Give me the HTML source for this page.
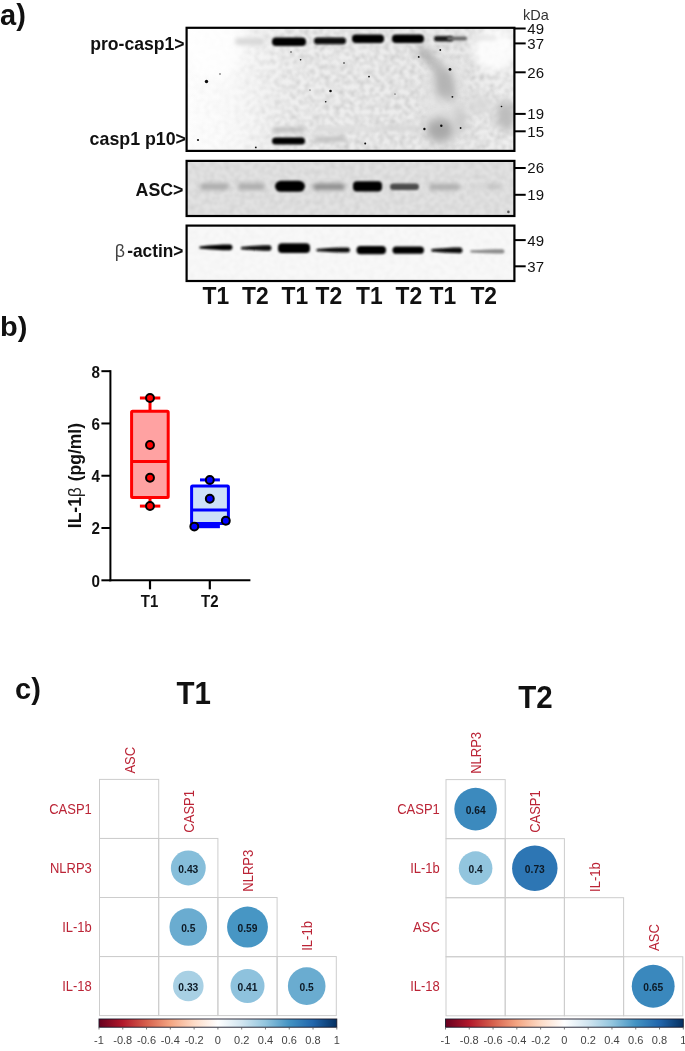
<!DOCTYPE html>
<html><head><meta charset="utf-8"><title>Figure</title>
<style>html,body{margin:0;padding:0;background:#fff}body{width:685px;height:1051px;overflow:hidden}</style>
</head><body>
<svg width="685" height="1051" viewBox="0 0 685 1051" style="display:block">
<defs>
<filter id="b1" x="-50%" y="-100%" width="200%" height="300%"><feGaussianBlur stdDeviation="1.2"/></filter>
<filter id="b2" x="-50%" y="-100%" width="200%" height="300%"><feGaussianBlur stdDeviation="2"/></filter>
<filter id="b4" x="-50%" y="-50%" width="200%" height="200%"><feGaussianBlur stdDeviation="5"/></filter>
<filter id="b05" x="-100%" y="-100%" width="300%" height="300%"><feGaussianBlur stdDeviation="0.5"/></filter>
<filter id="nz" x="0" y="0" width="100%" height="100%" filterUnits="objectBoundingBox"><feTurbulence type="fractalNoise" baseFrequency="0.2" numOctaves="2" seed="7" result="t"/><feColorMatrix in="t" type="matrix" values="0 0 0 0 0  0 0 0 0 0  0 0 0 0 0  0.32 0 0 0 -0.12" result="n0"/><feGaussianBlur in="n0" stdDeviation="0.8" result="n"/><feComposite in="n" in2="SourceGraphic" operator="in"/></filter>
<linearGradient id="cb" x1="0" x2="1" y1="0" y2="0">
<stop offset="0.00" stop-color="#67001F"/>
<stop offset="0.10" stop-color="#B2182B"/>
<stop offset="0.20" stop-color="#D6604D"/>
<stop offset="0.30" stop-color="#F4A582"/>
<stop offset="0.40" stop-color="#FDDBC7"/>
<stop offset="0.50" stop-color="#FFFFFF"/>
<stop offset="0.60" stop-color="#D1E5F0"/>
<stop offset="0.70" stop-color="#92C5DE"/>
<stop offset="0.80" stop-color="#4393C3"/>
<stop offset="0.90" stop-color="#2166AC"/>
<stop offset="1.00" stop-color="#053061"/>
</linearGradient></defs>
<rect width="685" height="1051" fill="#fff"/>
<text x="0" y="25.4" font-family="'Liberation Sans', Arial, sans-serif" font-size="29" font-weight="bold" text-anchor="start" fill="#111" >a)</text>
<text transform="translate(0,336.1) scale(1,0.95)" font-family="'Liberation Sans', Arial, sans-serif" font-size="29" font-weight="bold" fill="#111">b)</text>
<text x="15" y="699" font-family="'Liberation Sans', Arial, sans-serif" font-size="29" font-weight="bold" text-anchor="start" fill="#111" >c)</text>
<clipPath id="cp1"><rect x="186.8" y="27.8" width="327.8" height="123.1"/></clipPath>
<clipPath id="cp2"><rect x="186.8" y="160.9" width="327.2" height="55.1"/></clipPath>
<clipPath id="cp3"><rect x="186.8" y="225.5" width="327.2" height="55.5"/></clipPath>
<linearGradient id="g1" x1="186" x2="515" y1="0" y2="0" gradientUnits="userSpaceOnUse"><stop offset="0" stop-color="#fefefe"/><stop offset="0.12" stop-color="#fbfbfb"/><stop offset="0.3" stop-color="#f0f0f0"/><stop offset="0.6" stop-color="#ededed"/><stop offset="0.85" stop-color="#ebebeb"/><stop offset="1" stop-color="#f2f2f2"/></linearGradient>
<g clip-path="url(#cp1)">
<rect x="186.6" y="27.8" width="327.79999999999995" height="123.10000000000001" fill="url(#g1)"/>
<linearGradient id="gm" x1="186" x2="515" y1="0" y2="0" gradientUnits="userSpaceOnUse"><stop offset="0" stop-color="#fff" stop-opacity="0.15"/><stop offset="0.15" stop-color="#fff" stop-opacity="0.3"/><stop offset="0.35" stop-color="#fff" stop-opacity="1"/><stop offset="1" stop-color="#fff" stop-opacity="1"/></linearGradient><mask id="m1" maskUnits="userSpaceOnUse" x="186" y="27" width="330" height="124"><rect x="186" y="27" width="330" height="124" fill="url(#gm)"/></mask>
<rect x="186.6" y="27.8" width="327.79999999999995" height="123.10000000000001" fill="#000" filter="url(#nz)" mask="url(#m1)"/>
<ellipse cx="215" cy="40" rx="30" ry="40" fill="#fff" filter="url(#b4)" opacity="0.7"/>
<ellipse cx="495" cy="50" rx="22" ry="22" fill="#fff" filter="url(#b4)" opacity="0.85"/>
<ellipse cx="445" cy="100" rx="22" ry="45" fill="#e2e2e2" filter="url(#b4)" opacity="0.8"/>
<path d="M414,50 C428,58 440,72 448,95 L456,104 C450,78 438,60 424,48 Z" fill="#999" filter="url(#b4)"/>
<ellipse cx="444" cy="84" rx="9" ry="15" fill="#b4b4b4" filter="url(#b4)"/>
<ellipse cx="440" cy="130" rx="14" ry="12" fill="#a8a8a8" filter="url(#b4)"/>
<ellipse cx="460" cy="120" rx="6" ry="14" fill="#c8c8c8" filter="url(#b4)"/>
<ellipse cx="506" cy="116" rx="10" ry="16" fill="#bcbcbc" filter="url(#b4)"/>
<ellipse cx="480" cy="105" rx="12" ry="8" fill="#d8d8d8" filter="url(#b4)"/>
<ellipse cx="398" cy="128" rx="25" ry="2.5" fill="#d4d4d4" filter="url(#b2)"/>
<ellipse cx="345" cy="129" rx="32" ry="2.5" fill="#dedede" filter="url(#b2)"/>
</g>
<rect x="186.6" y="160.9" width="327.79999999999995" height="55.1" fill="#e2e2e2"/>
<rect x="186.6" y="160.9" width="327.79999999999995" height="55.1" fill="#000" filter="url(#nz)" opacity="0.5"/>
<rect x="186.6" y="225.5" width="327.79999999999995" height="55.5" fill="#f8f8f8"/>
<rect x="186.6" y="225.5" width="327.79999999999995" height="55.5" fill="#000" filter="url(#nz)" opacity="0.18"/>
<rect x="235.0" y="38.0" width="30.0" height="7.0" rx="3.5" fill="#d8d8d8" filter="url(#b2)"/>
<rect x="272.0" y="37.5" width="34.0" height="8.5" rx="4.0" fill="#000" filter="url(#b1)"/>
<rect x="314.0" y="37.6" width="32.0" height="6.6" rx="3.3" fill="#0a0a0a" filter="url(#b1)"/>
<rect x="352.0" y="34.6" width="32.0" height="8.4" rx="4.0" fill="#000" filter="url(#b1)"/>
<rect x="392.0" y="34.6" width="32.0" height="8.4" rx="4.0" fill="#000" filter="url(#b1)"/>
<rect x="434.0" y="36.0" width="19.0" height="5.6" rx="2.8" fill="#1e1e1e" filter="url(#b1)"/>
<rect x="447.0" y="36.6" width="20.0" height="4.0" rx="2.0" fill="#6a6a6a" filter="url(#b1)"/>
<rect x="474.0" y="36.0" width="23.0" height="4.0" rx="2.0" fill="#e4e4e4" filter="url(#b2)"/>
<rect x="272.0" y="127.5" width="33.0" height="4.5" rx="2.2" fill="#b8b8b8" filter="url(#b2)"/>
<rect x="272.0" y="137.5" width="33.0" height="7.0" rx="3.5" fill="#000" filter="url(#b1)"/>
<rect x="314.0" y="136.5" width="32.0" height="5.0" rx="2.5" fill="#bdbdbd" filter="url(#b2)"/>
<rect x="314.0" y="128.0" width="32.0" height="3.0" rx="1.5" fill="#dadada" filter="url(#b2)"/>
<circle cx="206.5" cy="81.5" r="1.7" fill="#111" filter="url(#b05)"/>
<circle cx="330.5" cy="91" r="1.3" fill="#111" filter="url(#b05)"/>
<circle cx="369" cy="76.6" r="0.9" fill="#111" filter="url(#b05)"/>
<circle cx="418.7" cy="56.9" r="0.9" fill="#111" filter="url(#b05)"/>
<circle cx="450" cy="69.4" r="1.4" fill="#111" filter="url(#b05)"/>
<circle cx="452.4" cy="96.8" r="0.9" fill="#111" filter="url(#b05)"/>
<circle cx="424.4" cy="129" r="1.2" fill="#111" filter="url(#b05)"/>
<circle cx="440.3" cy="50" r="0.9" fill="#111" filter="url(#b05)"/>
<circle cx="365.2" cy="143.6" r="1" fill="#111" filter="url(#b05)"/>
<circle cx="198" cy="140" r="1.1" fill="#111" filter="url(#b05)"/>
<circle cx="255.8" cy="147.4" r="0.9" fill="#111" filter="url(#b05)"/>
<circle cx="300.6" cy="59.8" r="0.8" fill="#111" filter="url(#b05)"/>
<circle cx="325.7" cy="101.7" r="0.8" fill="#111" filter="url(#b05)"/>
<circle cx="344" cy="63" r="0.8" fill="#111" filter="url(#b05)"/>
<circle cx="460.6" cy="128" r="0.9" fill="#111" filter="url(#b05)"/>
<circle cx="501.5" cy="106.5" r="0.8" fill="#111" filter="url(#b05)"/>
<circle cx="441.3" cy="125.7" r="1.2" fill="#111" filter="url(#b05)"/>
<circle cx="291" cy="52" r="0.7" fill="#111" filter="url(#b05)"/>
<circle cx="310" cy="90" r="0.6" fill="#111" filter="url(#b05)"/>
<circle cx="395" cy="94" r="0.6" fill="#111" filter="url(#b05)"/>
<circle cx="220" cy="74" r="0.7" fill="#111" filter="url(#b05)"/>
<rect x="200.0" y="183.2" width="29.0" height="6.8" rx="3.4" fill="#acacac" filter="url(#b2)"/>
<rect x="237.5" y="183.2" width="27.5" height="6.8" rx="3.4" fill="#acacac" filter="url(#b2)"/>
<rect x="275" y="180.8" width="30" height="11" rx="6" ry="5.5" fill="#000" filter="url(#b1)"/>
<rect x="313.0" y="183.5" width="32.0" height="6.5" rx="3.2" fill="#8c8c8c" filter="url(#b2)"/>
<rect x="353.0" y="181.2" width="29.0" height="10.3" rx="4.0" fill="#000" filter="url(#b1)"/>
<rect x="390.0" y="183.5" width="29.0" height="6.5" rx="3.2" fill="#4c4c4c" filter="url(#b1)"/>
<rect x="429.0" y="184.0" width="31.0" height="6.0" rx="3.0" fill="#acacac" filter="url(#b2)"/>
<rect x="486.0" y="184.0" width="16.0" height="5.0" rx="2.5" fill="#c2c2c2" filter="url(#b2)"/>
<rect x="470.0" y="184.5" width="18.0" height="4.0" rx="2.0" fill="#d2d2d2" filter="url(#b2)"/>
<circle cx="508.4" cy="211.9" r="1.3" fill="#555" filter="url(#b05)"/>
<path d="M199.5,246.4 C211.1,245.2 220.9,244.6 230.0,244.6 C233.3,244.6 233.3,250.2 230.0,250.2 C220.9,250.2 211.1,249.6 199.5,248.4 Z" fill="#000" filter="url(#b1)"/>
<path d="M241.0,247.0 C251.7,245.9 260.8,245.3 269.0,245.3 C272.3,245.3 272.3,250.8 269.0,250.8 C260.8,250.8 251.7,250.2 241.0,249.2 Z" fill="#080808" filter="url(#b1)"/>
<rect x="278.0" y="243.2" width="32.0" height="9.8" rx="4.0" fill="#000" filter="url(#b1)"/>
<path d="M316.5,249.0 C328.2,248.1 338.3,247.6 347.5,247.6 C350.8,247.6 350.8,252.6 347.5,252.6 C338.3,252.6 328.2,252.1 316.5,251.2 Z" fill="#111" filter="url(#b1)"/>
<rect x="356.5" y="245.9" width="29.5" height="8.4" rx="4.0" fill="#000" filter="url(#b1)"/>
<rect x="392.5" y="246.5" width="31.5" height="7.3" rx="3.7" fill="#000" filter="url(#b1)"/>
<path d="M431.5,249.0 C442.4,248.0 451.6,247.4 460.0,247.4 C463.3,247.4 463.3,253.2 460.0,253.2 C451.6,253.2 442.4,252.6 431.5,251.6 Z" fill="#0a0a0a" filter="url(#b1)"/>
<path d="M470.5,250.3 C482.4,249.6 492.6,249.2 502.0,249.2 C505.3,249.2 505.3,253.6 502.0,253.6 C492.6,253.6 482.4,253.2 470.5,252.5 Z" fill="#8a8a8a" filter="url(#b1)"/>
<rect x="186.6" y="27.8" width="327.79999999999995" height="123.10000000000001" fill="none" stroke="#000" stroke-width="2.2"/>
<rect x="186.6" y="160.9" width="327.79999999999995" height="55.099999999999994" fill="none" stroke="#000" stroke-width="2.2"/>
<rect x="186.6" y="225.6" width="327.79999999999995" height="55.400000000000006" fill="none" stroke="#000" stroke-width="2.2"/>
<line x1="514.4" x2="525.7" y1="28.5" y2="28.5" stroke="#000" stroke-width="2"/>
<text x="527.3" y="33.9" font-family="'Liberation Sans', Arial, sans-serif" font-size="15" font-weight="normal" text-anchor="start" fill="#111" >49</text>
<line x1="514.4" x2="525.7" y1="43.4" y2="43.4" stroke="#000" stroke-width="2"/>
<text x="527.3" y="48.8" font-family="'Liberation Sans', Arial, sans-serif" font-size="15" font-weight="normal" text-anchor="start" fill="#111" >37</text>
<line x1="514.4" x2="525.7" y1="72.3" y2="72.3" stroke="#000" stroke-width="2"/>
<text x="527.3" y="77.7" font-family="'Liberation Sans', Arial, sans-serif" font-size="15" font-weight="normal" text-anchor="start" fill="#111" >26</text>
<line x1="514.4" x2="525.7" y1="113.9" y2="113.9" stroke="#000" stroke-width="2"/>
<text x="527.3" y="119.30000000000001" font-family="'Liberation Sans', Arial, sans-serif" font-size="15" font-weight="normal" text-anchor="start" fill="#111" >19</text>
<line x1="514.4" x2="525.7" y1="131.3" y2="131.3" stroke="#000" stroke-width="2"/>
<text x="527.3" y="136.70000000000002" font-family="'Liberation Sans', Arial, sans-serif" font-size="15" font-weight="normal" text-anchor="start" fill="#111" >15</text>
<line x1="514.4" x2="525.7" y1="168" y2="168" stroke="#000" stroke-width="2"/>
<text x="527.3" y="173.4" font-family="'Liberation Sans', Arial, sans-serif" font-size="15" font-weight="normal" text-anchor="start" fill="#111" >26</text>
<line x1="514.4" x2="525.7" y1="194.8" y2="194.8" stroke="#000" stroke-width="2"/>
<text x="527.3" y="200.20000000000002" font-family="'Liberation Sans', Arial, sans-serif" font-size="15" font-weight="normal" text-anchor="start" fill="#111" >19</text>
<line x1="514.4" x2="525.7" y1="240.1" y2="240.1" stroke="#000" stroke-width="2"/>
<text x="527.3" y="245.5" font-family="'Liberation Sans', Arial, sans-serif" font-size="15" font-weight="normal" text-anchor="start" fill="#111" >49</text>
<line x1="514.4" x2="525.7" y1="266.3" y2="266.3" stroke="#000" stroke-width="2"/>
<text x="527.3" y="271.7" font-family="'Liberation Sans', Arial, sans-serif" font-size="15" font-weight="normal" text-anchor="start" fill="#111" >37</text>
<text x="523" y="19.7" font-family="'Liberation Sans', Arial, sans-serif" font-size="14.5" font-weight="normal" text-anchor="start" fill="#333" >kDa</text>
<text x="184.6" y="50.2" font-family="'Liberation Sans', Arial, sans-serif" font-size="17.6" font-weight="bold" text-anchor="end" fill="#111" >pro-casp1&gt;</text>
<text x="186" y="145.3" font-family="'Liberation Sans', Arial, sans-serif" font-size="17.8" font-weight="bold" text-anchor="end" fill="#111" >casp1 p10&gt;</text>
<text x="183.5" y="196" font-family="'Liberation Sans', Arial, sans-serif" font-size="17.8" font-weight="bold" text-anchor="end" fill="#111" >ASC&gt;</text>
<text transform="translate(183.4,256.8) scale(1,1.03)" font-family="'Liberation Sans', Arial, sans-serif" font-size="17.3" font-weight="bold" text-anchor="end" fill="#111">-actin&gt;</text>
<text x="114.8" y="257.3" font-family="'Liberation Sans', Arial, sans-serif" font-size="17.8" font-weight="normal" text-anchor="start" fill="#444" >β</text>
<text transform="translate(202.6,304.0) scale(1,1.07)" font-family="'Liberation Sans', Arial, sans-serif" font-size="22.8" font-weight="bold" fill="#111">T1</text>
<text transform="translate(242.0,304.0) scale(1,1.07)" font-family="'Liberation Sans', Arial, sans-serif" font-size="22.8" font-weight="bold" fill="#111">T2</text>
<text transform="translate(281.5,304.0) scale(1,1.07)" font-family="'Liberation Sans', Arial, sans-serif" font-size="22.8" font-weight="bold" fill="#111">T1</text>
<text transform="translate(315.6,304.0) scale(1,1.07)" font-family="'Liberation Sans', Arial, sans-serif" font-size="22.8" font-weight="bold" fill="#111">T2</text>
<text transform="translate(356.0,304.0) scale(1,1.07)" font-family="'Liberation Sans', Arial, sans-serif" font-size="22.8" font-weight="bold" fill="#111">T1</text>
<text transform="translate(395.5,304.0) scale(1,1.07)" font-family="'Liberation Sans', Arial, sans-serif" font-size="22.8" font-weight="bold" fill="#111">T2</text>
<text transform="translate(429.6,304.0) scale(1,1.07)" font-family="'Liberation Sans', Arial, sans-serif" font-size="22.8" font-weight="bold" fill="#111">T1</text>
<text transform="translate(470.4,304.0) scale(1,1.07)" font-family="'Liberation Sans', Arial, sans-serif" font-size="22.8" font-weight="bold" fill="#111">T2</text>
<line x1="110.4" x2="110.4" y1="370.17999999999995" y2="581.3" stroke="#000" stroke-width="2"/>
<line x1="109.4" x2="250.4" y1="580.3" y2="580.3" stroke="#000" stroke-width="2"/>
<line x1="101.4" x2="110.4" y1="580.3" y2="580.3" stroke="#000" stroke-width="2"/>
<text transform="translate(99.9,586.70) scale(1,1.06)" font-family="'Liberation Sans', Arial, sans-serif" font-size="15.2" font-weight="bold" text-anchor="end" fill="#111">0</text>
<line x1="101.4" x2="110.4" y1="528.02" y2="528.02" stroke="#000" stroke-width="2"/>
<text transform="translate(99.9,534.42) scale(1,1.06)" font-family="'Liberation Sans', Arial, sans-serif" font-size="15.2" font-weight="bold" text-anchor="end" fill="#111">2</text>
<line x1="101.4" x2="110.4" y1="475.73999999999995" y2="475.73999999999995" stroke="#000" stroke-width="2"/>
<text transform="translate(99.9,482.14) scale(1,1.06)" font-family="'Liberation Sans', Arial, sans-serif" font-size="15.2" font-weight="bold" text-anchor="end" fill="#111">4</text>
<line x1="101.4" x2="110.4" y1="423.4599999999999" y2="423.4599999999999" stroke="#000" stroke-width="2"/>
<text transform="translate(99.9,429.86) scale(1,1.06)" font-family="'Liberation Sans', Arial, sans-serif" font-size="15.2" font-weight="bold" text-anchor="end" fill="#111">6</text>
<line x1="101.4" x2="110.4" y1="371.17999999999995" y2="371.17999999999995" stroke="#000" stroke-width="2"/>
<text transform="translate(99.9,377.58) scale(1,1.06)" font-family="'Liberation Sans', Arial, sans-serif" font-size="15.2" font-weight="bold" text-anchor="end" fill="#111">8</text>
<line x1="150" x2="150" y1="580.3" y2="589.3" stroke="#000" stroke-width="2.2"/>
<line x1="209.8" x2="209.8" y1="580.3" y2="589.3" stroke="#000" stroke-width="2.2"/>
<text transform="translate(149.5,606.5) scale(1,1.05)" font-family="'Liberation Sans', Arial, sans-serif" font-size="15" font-weight="bold" text-anchor="middle" fill="#111">T1</text>
<text transform="translate(209.8,606.5) scale(1,1.05)" font-family="'Liberation Sans', Arial, sans-serif" font-size="15" font-weight="bold" text-anchor="middle" fill="#111">T2</text>
<text transform="translate(80.9,528.2) rotate(-90)" font-family="'Liberation Sans', Arial, sans-serif" font-size="17.5" font-weight="bold" fill="#111">IL-1</text>
<text transform="translate(80.9,497.3) rotate(-90)" font-family="'Liberation Sans', Arial, sans-serif" font-size="17.5" font-weight="normal" fill="#222">β</text>
<text transform="translate(80.9,481.3) rotate(-90)" font-family="'Liberation Sans', Arial, sans-serif" font-size="17.5" font-weight="bold" fill="#111">(pg/ml)</text>
<line x1="150" x2="150" y1="398" y2="411.3" stroke="#ff0000" stroke-width="3"/>
<line x1="150" x2="150" y1="497.4" y2="506.1" stroke="#ff0000" stroke-width="3"/>
<line x1="139.9" x2="160.3" y1="398" y2="398" stroke="#ff0000" stroke-width="3"/>
<line x1="139.9" x2="160.3" y1="506.1" y2="506.1" stroke="#ff0000" stroke-width="3"/>
<rect x="131.6" y="411.3" width="36.6" height="86.1" rx="1" fill="#ffa2a2" stroke="#ff0000" stroke-width="3"/>
<line x1="131.6" x2="168.2" y1="461.4" y2="461.4" stroke="#ff0000" stroke-width="3"/>
<circle cx="150" cy="398" r="3.95" fill="#ff0000" stroke="#000" stroke-width="2"/>
<circle cx="150" cy="445" r="3.95" fill="#ff0000" stroke="#000" stroke-width="2"/>
<circle cx="150" cy="477.8" r="3.95" fill="#ff0000" stroke="#000" stroke-width="2"/>
<circle cx="150" cy="506" r="3.95" fill="#ff0000" stroke="#000" stroke-width="2"/>
<line x1="209.8" x2="209.8" y1="479.9" y2="486" stroke="#0000ff" stroke-width="3"/>
<line x1="200" x2="219.9" y1="479.9" y2="479.9" stroke="#0000ff" stroke-width="3"/>
<rect x="191.6" y="486" width="36.8" height="37.6" rx="1" fill="#cde0f8" stroke="#0000ff" stroke-width="3"/>
<line x1="191.6" x2="228.4" y1="510" y2="510" stroke="#0000ff" stroke-width="3"/>
<rect x="192.3" y="522.1" width="27.6" height="6.1" fill="#0000ff"/>
<circle cx="209.8" cy="479.9" r="3.95" fill="#0000ff" stroke="#000" stroke-width="2"/>
<circle cx="209.8" cy="498.8" r="3.95" fill="#0000ff" stroke="#000" stroke-width="2"/>
<circle cx="194.3" cy="526.6" r="3.95" fill="#0000ff" stroke="#000" stroke-width="2"/>
<circle cx="225.8" cy="520.7" r="3.95" fill="#0000ff" stroke="#000" stroke-width="2"/>
<text transform="translate(176.4,704.1) scale(1,1.06)" font-family="'Liberation Sans', Arial, sans-serif" font-size="29.5" font-weight="bold" fill="#111">T1</text>
<text transform="translate(518.2,708.4) scale(1,1.06)" font-family="'Liberation Sans', Arial, sans-serif" font-size="29.5" font-weight="bold" fill="#111">T2</text>
<rect x="99.50" y="779.40" width="59.2" height="59.05" fill="none" stroke="#cdcdcd" stroke-width="1"/>
<rect x="99.50" y="838.45" width="59.2" height="59.05" fill="none" stroke="#cdcdcd" stroke-width="1"/>
<rect x="158.70" y="838.45" width="59.2" height="59.05" fill="none" stroke="#cdcdcd" stroke-width="1"/>
<rect x="99.50" y="897.50" width="59.2" height="59.05" fill="none" stroke="#cdcdcd" stroke-width="1"/>
<rect x="158.70" y="897.50" width="59.2" height="59.05" fill="none" stroke="#cdcdcd" stroke-width="1"/>
<rect x="217.90" y="897.50" width="59.2" height="59.05" fill="none" stroke="#cdcdcd" stroke-width="1"/>
<rect x="99.50" y="956.55" width="59.2" height="59.05" fill="none" stroke="#cdcdcd" stroke-width="1"/>
<rect x="158.70" y="956.55" width="59.2" height="59.05" fill="none" stroke="#cdcdcd" stroke-width="1"/>
<rect x="217.90" y="956.55" width="59.2" height="59.05" fill="none" stroke="#cdcdcd" stroke-width="1"/>
<rect x="277.10" y="956.55" width="59.2" height="59.05" fill="none" stroke="#cdcdcd" stroke-width="1"/>
<circle cx="188.30" cy="867.97" r="17.44" fill="#86beda"/>
<text transform="translate(188.30,872.67) scale(0.9,1)" font-family="'Liberation Sans', Arial, sans-serif" font-size="11.4" font-weight="bold" text-anchor="middle" fill="#0d1a26">0.43</text>
<circle cx="188.30" cy="927.02" r="18.81" fill="#6aacd0"/>
<text transform="translate(188.30,931.73) scale(0.9,1)" font-family="'Liberation Sans', Arial, sans-serif" font-size="11.4" font-weight="bold" text-anchor="middle" fill="#0d1a26">0.5</text>
<circle cx="247.50" cy="927.02" r="20.43" fill="#4796c4"/>
<text transform="translate(247.50,931.73) scale(0.9,1)" font-family="'Liberation Sans', Arial, sans-serif" font-size="11.4" font-weight="bold" text-anchor="middle" fill="#0d1a26">0.59</text>
<circle cx="188.30" cy="986.07" r="15.28" fill="#a8d0e4"/>
<text transform="translate(188.30,990.77) scale(0.9,1)" font-family="'Liberation Sans', Arial, sans-serif" font-size="11.4" font-weight="bold" text-anchor="middle" fill="#0d1a26">0.33</text>
<circle cx="247.50" cy="986.07" r="17.03" fill="#8ec2dd"/>
<text transform="translate(247.50,990.77) scale(0.9,1)" font-family="'Liberation Sans', Arial, sans-serif" font-size="11.4" font-weight="bold" text-anchor="middle" fill="#0d1a26">0.41</text>
<circle cx="306.70" cy="986.07" r="18.81" fill="#6aacd0"/>
<text transform="translate(306.70,990.77) scale(0.9,1)" font-family="'Liberation Sans', Arial, sans-serif" font-size="11.4" font-weight="bold" text-anchor="middle" fill="#0d1a26">0.5</text>
<text transform="translate(91.80,813.82) scale(1,1.1)" font-family="'Liberation Sans', Arial, sans-serif" font-size="13" text-anchor="end" fill="#bb2436">CASP1</text>
<text transform="translate(91.80,872.87) scale(1,1.1)" font-family="'Liberation Sans', Arial, sans-serif" font-size="13" text-anchor="end" fill="#bb2436">NLRP3</text>
<text transform="translate(91.80,931.92) scale(1,1.1)" font-family="'Liberation Sans', Arial, sans-serif" font-size="13" text-anchor="end" fill="#bb2436">IL-1b</text>
<text transform="translate(91.80,990.97) scale(1,1.1)" font-family="'Liberation Sans', Arial, sans-serif" font-size="13" text-anchor="end" fill="#bb2436">IL-18</text>
<text transform="translate(134.60,773.60) rotate(-90) scale(1,1.1)" font-family="'Liberation Sans', Arial, sans-serif" font-size="13" fill="#bb2436">ASC</text>
<text transform="translate(193.80,832.65) rotate(-90) scale(1,1.1)" font-family="'Liberation Sans', Arial, sans-serif" font-size="13" fill="#bb2436">CASP1</text>
<text transform="translate(253.00,891.70) rotate(-90) scale(1,1.1)" font-family="'Liberation Sans', Arial, sans-serif" font-size="13" fill="#bb2436">NLRP3</text>
<text transform="translate(312.20,950.75) rotate(-90) scale(1,1.1)" font-family="'Liberation Sans', Arial, sans-serif" font-size="13" fill="#bb2436">IL-1b</text>
<rect x="99.00" y="1019" width="237.80" height="8.2" fill="url(#cb)" stroke="#1a1a2a" stroke-width="0.9"/>
<line x1="99.00" x2="99.00" y1="1027.2" y2="1029.5" stroke="#555" stroke-width="0.8"/>
<text x="99.00" y="1044.2" font-family="'Liberation Sans', Arial, sans-serif" font-size="11" font-weight="normal" text-anchor="middle" fill="#444" >-1</text>
<line x1="122.78" x2="122.78" y1="1027.2" y2="1029.5" stroke="#555" stroke-width="0.8"/>
<text x="122.78" y="1044.2" font-family="'Liberation Sans', Arial, sans-serif" font-size="11" font-weight="normal" text-anchor="middle" fill="#444" >-0.8</text>
<line x1="146.56" x2="146.56" y1="1027.2" y2="1029.5" stroke="#555" stroke-width="0.8"/>
<text x="146.56" y="1044.2" font-family="'Liberation Sans', Arial, sans-serif" font-size="11" font-weight="normal" text-anchor="middle" fill="#444" >-0.6</text>
<line x1="170.34" x2="170.34" y1="1027.2" y2="1029.5" stroke="#555" stroke-width="0.8"/>
<text x="170.34" y="1044.2" font-family="'Liberation Sans', Arial, sans-serif" font-size="11" font-weight="normal" text-anchor="middle" fill="#444" >-0.4</text>
<line x1="194.12" x2="194.12" y1="1027.2" y2="1029.5" stroke="#555" stroke-width="0.8"/>
<text x="194.12" y="1044.2" font-family="'Liberation Sans', Arial, sans-serif" font-size="11" font-weight="normal" text-anchor="middle" fill="#444" >-0.2</text>
<line x1="217.90" x2="217.90" y1="1027.2" y2="1029.5" stroke="#555" stroke-width="0.8"/>
<text x="217.90" y="1044.2" font-family="'Liberation Sans', Arial, sans-serif" font-size="11" font-weight="normal" text-anchor="middle" fill="#444" >0</text>
<line x1="241.68" x2="241.68" y1="1027.2" y2="1029.5" stroke="#555" stroke-width="0.8"/>
<text x="241.68" y="1044.2" font-family="'Liberation Sans', Arial, sans-serif" font-size="11" font-weight="normal" text-anchor="middle" fill="#444" >0.2</text>
<line x1="265.46" x2="265.46" y1="1027.2" y2="1029.5" stroke="#555" stroke-width="0.8"/>
<text x="265.46" y="1044.2" font-family="'Liberation Sans', Arial, sans-serif" font-size="11" font-weight="normal" text-anchor="middle" fill="#444" >0.4</text>
<line x1="289.24" x2="289.24" y1="1027.2" y2="1029.5" stroke="#555" stroke-width="0.8"/>
<text x="289.24" y="1044.2" font-family="'Liberation Sans', Arial, sans-serif" font-size="11" font-weight="normal" text-anchor="middle" fill="#444" >0.6</text>
<line x1="313.02" x2="313.02" y1="1027.2" y2="1029.5" stroke="#555" stroke-width="0.8"/>
<text x="313.02" y="1044.2" font-family="'Liberation Sans', Arial, sans-serif" font-size="11" font-weight="normal" text-anchor="middle" fill="#444" >0.8</text>
<line x1="336.80" x2="336.80" y1="1027.2" y2="1029.5" stroke="#555" stroke-width="0.8"/>
<text x="336.80" y="1044.2" font-family="'Liberation Sans', Arial, sans-serif" font-size="11" font-weight="normal" text-anchor="middle" fill="#444" >1</text>
<rect x="446.00" y="779.60" width="59.2" height="59.05" fill="none" stroke="#cdcdcd" stroke-width="1"/>
<rect x="446.00" y="838.65" width="59.2" height="59.05" fill="none" stroke="#cdcdcd" stroke-width="1"/>
<rect x="505.20" y="838.65" width="59.2" height="59.05" fill="none" stroke="#cdcdcd" stroke-width="1"/>
<rect x="446.00" y="897.70" width="59.2" height="59.05" fill="none" stroke="#cdcdcd" stroke-width="1"/>
<rect x="505.20" y="897.70" width="59.2" height="59.05" fill="none" stroke="#cdcdcd" stroke-width="1"/>
<rect x="564.40" y="897.70" width="59.2" height="59.05" fill="none" stroke="#cdcdcd" stroke-width="1"/>
<rect x="446.00" y="956.75" width="59.2" height="59.05" fill="none" stroke="#cdcdcd" stroke-width="1"/>
<rect x="505.20" y="956.75" width="59.2" height="59.05" fill="none" stroke="#cdcdcd" stroke-width="1"/>
<rect x="564.40" y="956.75" width="59.2" height="59.05" fill="none" stroke="#cdcdcd" stroke-width="1"/>
<rect x="623.60" y="956.75" width="59.2" height="59.05" fill="none" stroke="#cdcdcd" stroke-width="1"/>
<circle cx="475.60" cy="809.12" r="21.28" fill="#3c8abe"/>
<text transform="translate(475.60,813.83) scale(0.9,1)" font-family="'Liberation Sans', Arial, sans-serif" font-size="11.4" font-weight="bold" text-anchor="middle" fill="#0d1a26">0.64</text>
<circle cx="475.60" cy="868.17" r="16.82" fill="#92c5de"/>
<text transform="translate(475.60,872.88) scale(0.9,1)" font-family="'Liberation Sans', Arial, sans-serif" font-size="11.4" font-weight="bold" text-anchor="middle" fill="#0d1a26">0.4</text>
<circle cx="534.80" cy="868.17" r="22.72" fill="#2d76b4"/>
<text transform="translate(534.80,872.88) scale(0.9,1)" font-family="'Liberation Sans', Arial, sans-serif" font-size="11.4" font-weight="bold" text-anchor="middle" fill="#0d1a26">0.73</text>
<circle cx="653.20" cy="986.27" r="21.44" fill="#3a88bd"/>
<text transform="translate(653.20,990.98) scale(0.9,1)" font-family="'Liberation Sans', Arial, sans-serif" font-size="11.4" font-weight="bold" text-anchor="middle" fill="#0d1a26">0.65</text>
<text transform="translate(439.80,814.02) scale(1,1.1)" font-family="'Liberation Sans', Arial, sans-serif" font-size="13" text-anchor="end" fill="#bb2436">CASP1</text>
<text transform="translate(439.80,873.07) scale(1,1.1)" font-family="'Liberation Sans', Arial, sans-serif" font-size="13" text-anchor="end" fill="#bb2436">IL-1b</text>
<text transform="translate(439.80,932.12) scale(1,1.1)" font-family="'Liberation Sans', Arial, sans-serif" font-size="13" text-anchor="end" fill="#bb2436">ASC</text>
<text transform="translate(439.80,991.17) scale(1,1.1)" font-family="'Liberation Sans', Arial, sans-serif" font-size="13" text-anchor="end" fill="#bb2436">IL-18</text>
<text transform="translate(481.10,773.80) rotate(-90) scale(1,1.1)" font-family="'Liberation Sans', Arial, sans-serif" font-size="13" fill="#bb2436">NLRP3</text>
<text transform="translate(540.30,832.85) rotate(-90) scale(1,1.1)" font-family="'Liberation Sans', Arial, sans-serif" font-size="13" fill="#bb2436">CASP1</text>
<text transform="translate(599.50,891.90) rotate(-90) scale(1,1.1)" font-family="'Liberation Sans', Arial, sans-serif" font-size="13" fill="#bb2436">IL-1b</text>
<text transform="translate(658.70,950.95) rotate(-90) scale(1,1.1)" font-family="'Liberation Sans', Arial, sans-serif" font-size="13" fill="#bb2436">ASC</text>
<rect x="445.50" y="1019" width="237.80" height="8.2" fill="url(#cb)" stroke="#1a1a2a" stroke-width="0.9"/>
<line x1="445.50" x2="445.50" y1="1027.2" y2="1029.5" stroke="#555" stroke-width="0.8"/>
<text x="445.50" y="1044.2" font-family="'Liberation Sans', Arial, sans-serif" font-size="11" font-weight="normal" text-anchor="middle" fill="#444" >-1</text>
<line x1="469.28" x2="469.28" y1="1027.2" y2="1029.5" stroke="#555" stroke-width="0.8"/>
<text x="469.28" y="1044.2" font-family="'Liberation Sans', Arial, sans-serif" font-size="11" font-weight="normal" text-anchor="middle" fill="#444" >-0.8</text>
<line x1="493.06" x2="493.06" y1="1027.2" y2="1029.5" stroke="#555" stroke-width="0.8"/>
<text x="493.06" y="1044.2" font-family="'Liberation Sans', Arial, sans-serif" font-size="11" font-weight="normal" text-anchor="middle" fill="#444" >-0.6</text>
<line x1="516.84" x2="516.84" y1="1027.2" y2="1029.5" stroke="#555" stroke-width="0.8"/>
<text x="516.84" y="1044.2" font-family="'Liberation Sans', Arial, sans-serif" font-size="11" font-weight="normal" text-anchor="middle" fill="#444" >-0.4</text>
<line x1="540.62" x2="540.62" y1="1027.2" y2="1029.5" stroke="#555" stroke-width="0.8"/>
<text x="540.62" y="1044.2" font-family="'Liberation Sans', Arial, sans-serif" font-size="11" font-weight="normal" text-anchor="middle" fill="#444" >-0.2</text>
<line x1="564.40" x2="564.40" y1="1027.2" y2="1029.5" stroke="#555" stroke-width="0.8"/>
<text x="564.40" y="1044.2" font-family="'Liberation Sans', Arial, sans-serif" font-size="11" font-weight="normal" text-anchor="middle" fill="#444" >0</text>
<line x1="588.18" x2="588.18" y1="1027.2" y2="1029.5" stroke="#555" stroke-width="0.8"/>
<text x="588.18" y="1044.2" font-family="'Liberation Sans', Arial, sans-serif" font-size="11" font-weight="normal" text-anchor="middle" fill="#444" >0.2</text>
<line x1="611.96" x2="611.96" y1="1027.2" y2="1029.5" stroke="#555" stroke-width="0.8"/>
<text x="611.96" y="1044.2" font-family="'Liberation Sans', Arial, sans-serif" font-size="11" font-weight="normal" text-anchor="middle" fill="#444" >0.4</text>
<line x1="635.74" x2="635.74" y1="1027.2" y2="1029.5" stroke="#555" stroke-width="0.8"/>
<text x="635.74" y="1044.2" font-family="'Liberation Sans', Arial, sans-serif" font-size="11" font-weight="normal" text-anchor="middle" fill="#444" >0.6</text>
<line x1="659.52" x2="659.52" y1="1027.2" y2="1029.5" stroke="#555" stroke-width="0.8"/>
<text x="659.52" y="1044.2" font-family="'Liberation Sans', Arial, sans-serif" font-size="11" font-weight="normal" text-anchor="middle" fill="#444" >0.8</text>
<line x1="683.30" x2="683.30" y1="1027.2" y2="1029.5" stroke="#555" stroke-width="0.8"/>
<text x="683.30" y="1044.2" font-family="'Liberation Sans', Arial, sans-serif" font-size="11" font-weight="normal" text-anchor="middle" fill="#444" >1</text>
</svg>
</body></html>
